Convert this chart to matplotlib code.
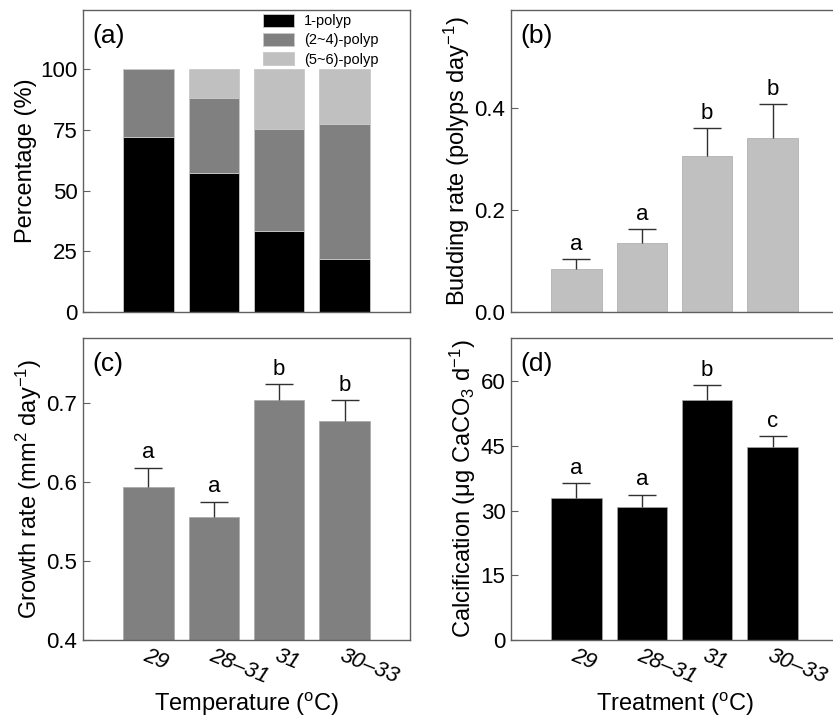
import numpy as np
import matplotlib
matplotlib.use("Agg")
import matplotlib.pyplot as plt

plt.rcParams['font.family'] = ['Liberation Sans', 'DejaVu Sans']
plt.rcParams['mathtext.fontset'] = 'custom'
plt.rcParams['mathtext.rm'] = 'Liberation Sans'
plt.rcParams['mathtext.it'] = 'Liberation Sans:italic'

# treatments (x tick labels)
treatments = ["29", "28\u201331", "31", "30\u201333"]

# (a) polyp composition, %
one_polyp = [72.0, 57.5, 33.2, 21.8]
two_four_polyp = [28.0, 30.8, 42.2, 55.8]
five_six_polyp = [0.0, 11.7, 24.6, 22.4]

# (b) budding rate
budding = [0.084, 0.135, 0.306, 0.342]
budding_se = [0.019, 0.028, 0.055, 0.065]
budding_grp = ["a", "a", "b", "b"]

# (c) growth rate
growth = [0.593, 0.556, 0.703, 0.677]
growth_se = [0.025, 0.019, 0.021, 0.026]
growth_grp = ["a", "a", "b", "b"]

# (d) calcification
calc = [33.0, 30.8, 55.6, 44.8]
calc_se = [3.3, 2.9, 3.5, 2.5]
calc_grp = ["a", "a", "b", "c"]

x = np.arange(len(treatments))
W, H = 833, 718
fig = plt.figure(figsize=(W / 100, H / 100), dpi=100)


def make_ax(left, top, bottom):
    # pixel box -> figure fraction
    return fig.add_axes([left / W, (H - bottom) / H, 327 / W, (bottom - top) / H])


ax_a = make_ax(83, 10, 312)
ax_b = make_ax(511, 10, 312)
ax_c = make_ax(83, 338, 640)
ax_d = make_ax(511, 338, 640)

for ax in (ax_a, ax_b, ax_c, ax_d):
    ax.set_xlim(-1, 4)
    for s in ax.spines.values():
        s.set_color("#606060")
        s.set_linewidth(1.0)
    ax.tick_params(axis="y", direction="in", length=5, color="#606060",
                   labelsize=16, pad=4)
    ax.tick_params(axis="x", length=0, labelsize=16, pad=4)
    ax.set_xticks(x)

bw = 0.77
cap = 0.215

# (a)
ax_a.bar(x, one_polyp, bw, color="black", edgecolor="#c8c8c8", linewidth=0.6, label="1-polyp")
ax_a.bar(x, two_four_polyp, bw, bottom=one_polyp, color="#808080", edgecolor="#c8c8c8",
         linewidth=0.6, label="(2~4)-polyp")
bot = np.array(one_polyp) + np.array(two_four_polyp)
ax_a.bar(x, five_six_polyp, bw, bottom=bot, color="#c0c0c0", edgecolor="#c8c8c8",
         linewidth=0.6, label="(5~6)-polyp")
ax_a.set_ylim(0, 124.5)
ax_a.set_yticks([0, 25, 50, 75, 100])
ax_a.set_xticklabels([])
ax_a.set_ylabel("Percentage (%)", fontsize=17, labelpad=2)
ax_a.legend(loc="upper left", bbox_to_anchor=(0.51, 1.03), frameon=False, fontsize=10.5,
            handlelength=2.1, handleheight=0.95, handletextpad=0.7, labelspacing=0.33)


def err_panel(ax, vals, se, grp, color, ylim, yticks, fmt, ylabel):
    ax.bar(x, vals, bw, color=color, edgecolor="#a8a8a8", linewidth=0.5)
    tops = np.array(vals) + np.array(se)
    # upper error bar only
    ax.vlines(x, vals, tops, color="#303030", linewidth=1.0)
    ax.hlines(tops, x - cap, x + cap, color="#303030", linewidth=1.0)
    for xi, t, g in zip(x, tops, grp):
        ax.annotate(g, (xi, t), xytext=(0, 3), textcoords="offset points",
                    ha="center", va="bottom", fontsize=16)
    ax.set_ylim(*ylim)
    ax.set_yticks(yticks)
    ax.set_yticklabels([fmt.format(t) for t in yticks])
    ax.set_ylabel(ylabel, fontsize=17, labelpad=2)


err_panel(ax_b, budding, budding_se, budding_grp, "#c0c0c0", (0, 0.592),
          [0.0, 0.2, 0.4], "{:.1f}", "Budding rate (polyps day$^{-1}$)")
ax_b.set_xticklabels([])

err_panel(ax_c, growth, growth_se, growth_grp, "#808080", (0.4, 0.782),
          [0.4, 0.5, 0.6, 0.7], "{:.1f}", "Growth rate (mm$^{2}$ day$^{-1}$)")
err_panel(ax_d, calc, calc_se, calc_grp, "black", (0, 70),
          [0, 15, 30, 45, 60], "{:.0f}", "Calcification (\u03bcg CaCO$_{3}$ d$^{-1}$)")

for ax, xl in ((ax_c, "Temperature ($^{\\rm o}$C)"), (ax_d, "Treatment ($^{\\rm o}$C)")):
    ax.set_xticklabels(treatments, rotation=-22, ha="left", rotation_mode="anchor",
                       fontstyle="italic", fontsize=16)
    ax.set_xlabel(xl, fontsize=17)
    ax.xaxis.set_label_coords(0.5, -0.168)

for ax, lab in ((ax_a, "(a)"), (ax_b, "(b)"), (ax_c, "(c)"), (ax_d, "(d)")):
    ax.text(0.03, 0.915, lab, transform=ax.transAxes, fontsize=19, va="center", ha="left")

fig.savefig("out.png", dpi=100)
